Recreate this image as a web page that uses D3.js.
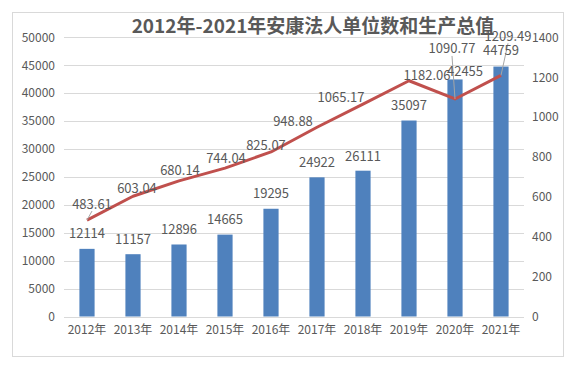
<!DOCTYPE html>
<html><head><meta charset="utf-8">
<script src="https://cdn.jsdelivr.net/npm/d3@7"></script>
<style>body{margin:0;background:#fff}svg{display:block}text{font-family:"Noto Sans CJK SC","Noto Sans",sans-serif;fill:#595959}</style>
</head><body><div id="c"></div>
<script>
const years = ["2012年","2013年","2014年","2015年","2016年","2017年","2018年","2019年","2020年","2021年"];
const units = [12114,11157,12896,14665,19295,24922,26111,35097,42455,44759];
const gdp = [483.61,603.04,680.14,744.04,825.07,948.88,1065.17,1182.06,1090.77,1209.49];
const leftTicks = [0,5000,10000,15000,20000,25000,30000,35000,40000,45000,50000];
const rightTicks = [0,200,400,600,800,1000,1200,1400];
const title = "2012年-2021年安康法人单位数和生产总值";
// label offsets (dx, dy of label center relative to point)
const gdpLabelOff = [[5,-17],[4,-9],[1,-11],[1,-11],[-5,-7],[-24,-7],[-22,-8],[18,-6],[-3,-51],[7,-40]];
const gdpLeader = [true,false,false,false,false,false,false,false,true,true];
const unitLabelOff = [[0,-16],[0,-16],[0,-16],[0,-16],[0,-16],[0,-16],[0,-15],[0,-16],[10,-9],[0,-17]];

const W=572,H=365;
const svg=d3.select("#c").append("svg").attr("width",W).attr("height",H);
svg.append("rect").attr("x",12.5).attr("y",12.5).attr("width",551).attr("height",344).attr("fill","#fff").attr("stroke","#d9d9d9");
const x=d3.scaleBand().domain(years).range([64,524]).paddingInner(0.67).paddingOuter(0.335);
const xc=d=>x(d)+x.bandwidth()/2;
const yL=d3.scaleLinear().domain([0,50000]).range([316.5,37.3]);
const yR=d3.scaleLinear().domain([0,1400]).range([316.5,37.3]);

// gridlines
svg.append("g").selectAll("line").data(leftTicks).join("line")
 .attr("x1",64).attr("x2",524).attr("y1",d=>Math.round(yL(d))+0.5).attr("y2",d=>Math.round(yL(d))+0.5)
 .attr("stroke","#d9d9d9").attr("stroke-width",1);

const ff='"Noto Sans CJK SC",sans-serif';
// left axis
const gl=svg.append("g").attr("transform","translate(64,0)").call(d3.axisLeft(yL).tickValues(leftTicks).tickFormat(d3.format("d")).tickSize(0).tickPadding(9));
gl.select(".domain").remove();
gl.selectAll("text").style("font-size","12px").attr("fill","#595959").style("font-family",ff);
const gr=svg.append("g").attr("transform","translate(524,0)").call(d3.axisRight(yR).tickValues(rightTicks).tickFormat(d3.format("d")).tickSize(0).tickPadding(8));
gr.select(".domain").remove();
gr.selectAll("text").style("font-size","12px").attr("fill","#595959").style("font-family",ff);
const gx=svg.append("g").attr("transform","translate(0,316.5)").call(d3.axisBottom(x).tickSize(0).tickPadding(9));
gx.select(".domain").remove();
gx.selectAll("text").style("font-size","12px").attr("fill","#595959").style("font-family",ff);

// bars
svg.append("g").selectAll("rect").data(units).join("rect")
 .attr("x",(d,i)=>x(years[i])).attr("width",x.bandwidth())
 .attr("y",d=>yL(d)).attr("height",d=>yL(0)-yL(d)).attr("fill","#4F81BD");

// line
const line=d3.line().x((d,i)=>xc(years[i])).y(d=>yR(d));
svg.append("path").datum(gdp).attr("d",line).attr("fill","none").attr("stroke","#C0504D").attr("stroke-width",3).attr("stroke-linejoin","round");

// leader lines
gdp.forEach((v,i)=>{
  if(!gdpLeader[i])return;
  const px=xc(years[i]),py=yR(v);
  const lx=px+gdpLabelOff[i][0], ly=py+gdpLabelOff[i][1]+8;
  svg.append("line").attr("x1",lx).attr("y1",ly).attr("x2",px).attr("y2",py).attr("stroke","#a6a6a6").attr("stroke-width",1);
});

// bar labels
svg.append("g").selectAll("text").data(units).join("text")
 .attr("x",(d,i)=>xc(years[i])+unitLabelOff[i][0]).attr("y",(d,i)=>yL(d)+unitLabelOff[i][1])
 .attr("text-anchor","middle").attr("dominant-baseline","central").style("font-size","13px").text(d=>d);
// line labels
svg.append("g").selectAll("text").data(gdp).join("text")
 .attr("x",(d,i)=>xc(years[i])+gdpLabelOff[i][0]).attr("y",(d,i)=>yR(d)+gdpLabelOff[i][1])
 .attr("text-anchor","middle").attr("dominant-baseline","central").style("font-size","13px").text(d=>d.toFixed(2));

svg.append("text").attr("x",313).attr("y",33).attr("text-anchor","middle").style("font-size","19px").style("font-weight","bold").text(title);
</script></body></html>
